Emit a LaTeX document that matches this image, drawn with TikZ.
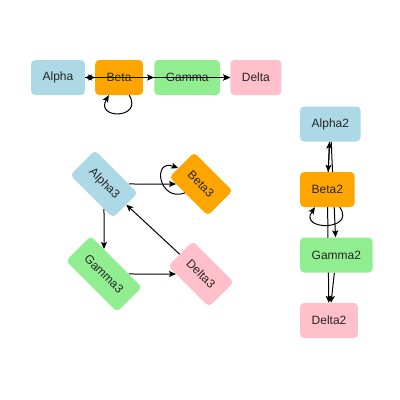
\documentclass[tikz,border=0pt]{standalone}
\usepackage{fontspec}
\setmainfont{Liberation Sans}
\usetikzlibrary{arrows.meta,positioning,backgrounds}

\definecolor{blau}{HTML}{ADD8E6}
\definecolor{orange}{HTML}{FFA500}
\definecolor{gruen}{HTML}{90EE90}
\definecolor{rosa}{HTML}{FFC0CB}

\tikzset{
  kasten/.style={rounded corners=4pt,minimum height=35pt,inner xsep=11.5pt,
    text=black!85,font=\fontsize{12}{14}\selectfont},
  pfeil/.style={draw=black,line width=1pt,-{Stealth[length=7pt,width=6pt,inset=1.5pt]}}
}

\begin{document}
\begin{tikzpicture}[x=1pt,y=1pt]
   \useasboundingbox (0,0) rectangle (400,-400);

   %% Reihe
   \node[kasten,fill=blau] (alpha) at (58,-77.5) {Alpha};
   \node[kasten,fill=orange,right=10pt of alpha] (beta) {Beta};
   \node[kasten,fill=gruen,right=11pt of beta] (gamma) {Gamma};
   \node[kasten,fill=rosa,right=10pt of gamma] (delta) {Delta};

   \draw[pfeil] (alpha) -- (beta);
   \draw[pfeil] (beta) -- (alpha);
   \draw[pfeil] (alpha) -- (gamma);
   \draw[pfeil] (beta) -- (delta);
   \draw[pfeil] (gamma) -- (delta);
   \draw[pfeil] (beta) to[out=-60,in=-120,looseness=3.5] (beta);

   %% Spalte
   \node[kasten,fill=blau,anchor=west] (alpha2) at (300,-124) {Alpha2};
   \node[kasten,fill=orange,anchor=west] (beta2) at (300,-189.5) {Beta2};
   \node[kasten,fill=gruen,anchor=west] (gamma2) at (300,-255) {Gamma2};
   \node[kasten,fill=rosa,anchor=west] (delta2) at (300,-320.5) {Delta2};

   \begin{pgfonlayer}{background}
   \draw[pfeil] (alpha2) -- (beta2);
   \draw[pfeil] (beta2) -- (alpha2);
   \draw[pfeil] (alpha2) -- (gamma2);
   \draw[pfeil] (beta2) -- (delta2);
   \draw[pfeil] (gamma2) -- (delta2);
   \end{pgfonlayer}
   \draw[pfeil] (beta2) to[out=-55,in=-125,looseness=3] (beta2);

   %% Gedreht
   \node[kasten,fill=blau,rotate=-45] (alpha3) at (104,-184) {Alpha3};
   \node[kasten,fill=orange,rotate=-45] (beta3) at (201,-184) {Beta3};
   \node[kasten,fill=gruen,rotate=-45] (gamma3) at (104,-274) {Gamma3};
   \node[kasten,fill=rosa,rotate=-45] (delta3) at (201,-274) {Delta3};

   \draw[pfeil] (alpha3) -- (beta3);
   \draw[pfeil] (alpha3) -- (gamma3);
   \draw[pfeil] (gamma3) -- (delta3);
   \draw[pfeil] (delta3) -- (alpha3);
   \draw[pfeil] (beta3.254) .. controls +(200:28) and +(160:28) .. (beta3.190);
  \end{tikzpicture}
\end{document}
